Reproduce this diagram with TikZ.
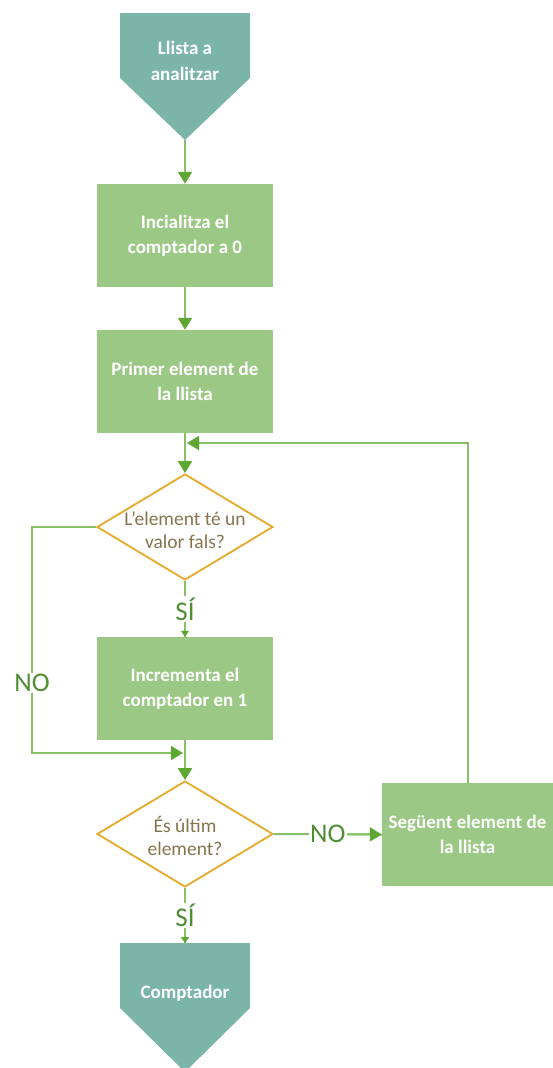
\documentclass[tikz,border=0pt]{standalone}
\usepackage{fontspec}
\setmainfont{Carlito}
\usetikzlibrary{arrows.meta,shapes.geometric}
\definecolor{tealfill}{HTML}{7BB5A8}
\definecolor{boxfill}{HTML}{9BC985}
\definecolor{diaborder}{HTML}{E6A92A}
\definecolor{diatext}{HTML}{85754F}
\definecolor{linegreen}{HTML}{86C168}
\definecolor{tipgreen}{HTML}{5EA832}
\definecolor{lblgreen}{HTML}{4F8E33}
\tikzset{
  x=1pt, y=-1pt,
  box/.style={fill=boxfill, minimum width=176pt, minimum height=103pt,
    inner sep=0pt, align=center, text=white,
    font=\fontsize{19}{25}\selectfont\bfseries},
  decision/.style={diamond, draw=diaborder, line width=1.8pt, fill=white,
    minimum width=176pt, minimum height=106pt, inner sep=0pt},
  dectext/.style={align=center, text=diatext, font=\fontsize{19.5}{23}\selectfont},
  termtext/.style={align=center, text=white, font=\fontsize{19}{26}\selectfont\bfseries},
  flow/.style={draw=linegreen, line width=2pt,
    -{Triangle[length=12pt,width=14pt,color=tipgreen]}},
  flowsmall/.style={draw=linegreen, line width=2pt,
    -{Triangle[length=6pt,width=8pt,color=tipgreen]}},
  plain/.style={draw=linegreen, line width=2pt},
  lbl/.style={fill=white, text=lblgreen, inner sep=1.5pt,
    font=\fontsize{27}{27}\selectfont},
}
\begin{document}
\begin{tikzpicture}
\clip (0,0) rectangle (553,1068);
\fill[white] (0,0) rectangle (553,1068);

% start terminator
\fill[tealfill] (120,13) -- (250,13) -- (250,78) -- (185,140) -- (120,78) -- cycle;
\coordinate (startTip) at (185,140);
\node[termtext] (start) at (185,61) {Llista a\\analitzar};

% process steps
\node[box] (b1) at (185,235.5) {Incialitza el\\comptador a 0};
\node[box] (b2) at (185,381.5) {Primer element de\\la llista};
\node[decision] (d1) at (185,527) {};
\node[dectext] (d1t) at (185,530) {L'element té un\\valor fals?};
\node[box] (b3) at (185,688.5) {Incrementa el\\comptador en 1};
\node[decision] (d2) at (185,834) {};
\node[dectext] (d2t) at (185,836) {És últim\\element?};
\node[box, minimum width=171pt] (b4) at (467.5,834.5) {Següent element de\\la llista};

% end terminator
\fill[tealfill] (120,943) -- (250,943) -- (250,1008) -- (185,1072) -- (120,1008) -- cycle;
\coordinate (endTop) at (185,943);
\node[termtext] (stop) at (185,993) {Comptador};

% connectors
\draw[flow] (startTip) -- (b1.north);
\draw[flow] (b1.south) -- (b2.north);
\draw[flow] (b2.south) -- (d1.north);

\coordinate (loopTop) at (b4.north |- 0,443);
\coordinate (loopIn) at (187,443);
\draw[flow] (b4.north) -- (loopTop) -- (loopIn);

\draw[plain] (d1.south) -- node[lbl] (si1) {SÍ} (b3.north);
\draw[flowsmall] (si1.south) -- (b3.north);

\coordinate (noBot) at (32,753);
\coordinate (noTop) at (d1.west -| noBot);
\coordinate (noIn) at (183,753);
\draw[flow] (d1.west) -- (noTop) -- node[lbl, pos=0.69] (no1) {NO} (noBot) -- (noIn);

\draw[flow] (b3.south) -- (d2.north);

\draw[plain] (d2.east) -- node[lbl] (no2) {NO} (b4.west);
\draw[flow] (no2.east) -- (b4.west);

\draw[plain] (d2.south) -- node[lbl] (si2) {SÍ} (endTop);
\draw[flowsmall] (si2.south) -- (endTop);
\end{tikzpicture}
\end{document}
